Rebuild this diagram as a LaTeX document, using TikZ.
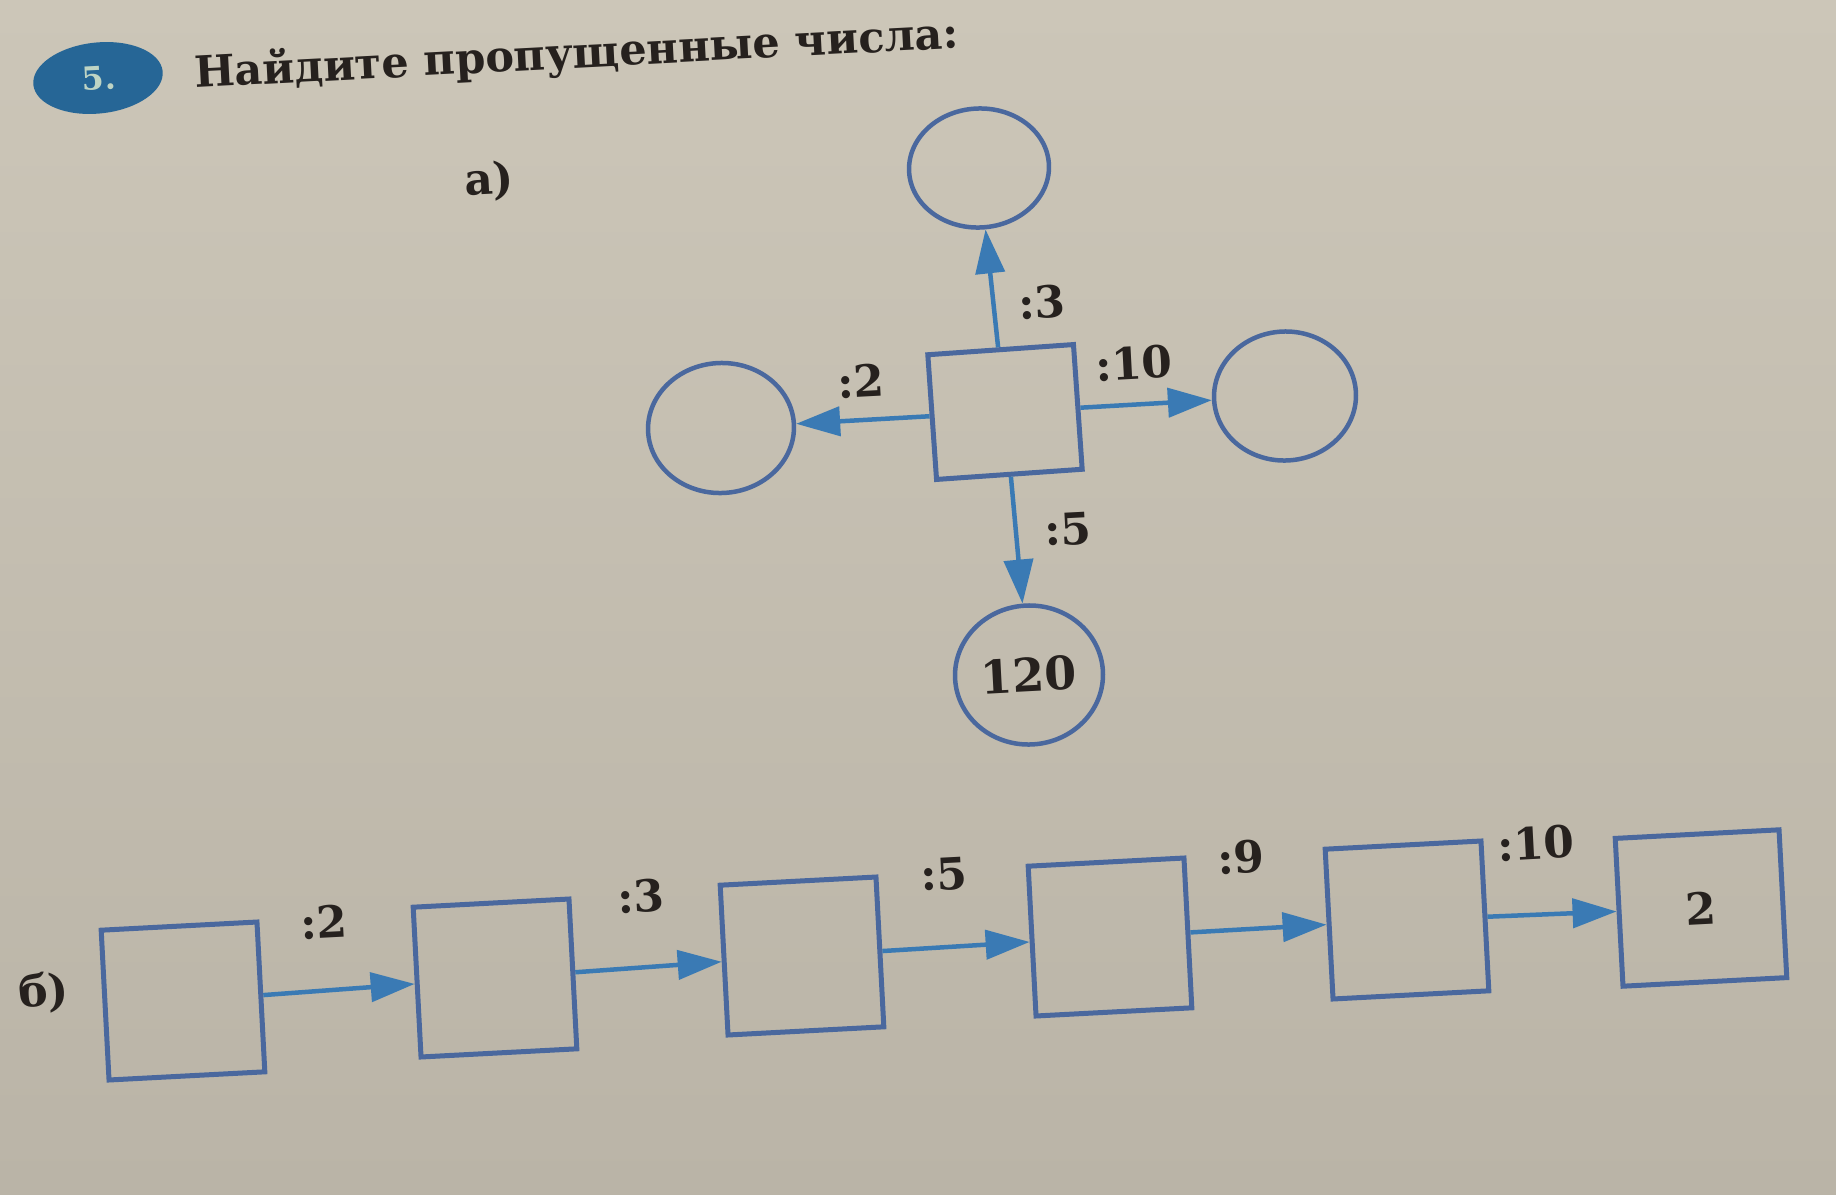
\documentclass[tikz,border=0pt]{standalone}
\usepackage{fontspec}
\setmainfont{DejaVu Serif}
\usetikzlibrary{arrows.meta,shapes.geometric}
\definecolor{papertop}{RGB}{204,198,184}
\definecolor{paperbot}{RGB}{186,180,167}
\definecolor{lineblue}{RGB}{74,104,158}
\definecolor{arrowblue}{RGB}{58,122,180}
\definecolor{ink}{RGB}{38,33,30}
\definecolor{badgeblue}{RGB}{38,102,150}
\definecolor{badgetext}{RGB}{190,212,196}
\begin{document}
\begin{tikzpicture}[x=1pt,y=-1pt,
  boxnode/.style={draw=lineblue,line width=5pt,minimum width=156pt,minimum height=150pt,inner sep=0pt,rotate=3,text=ink,font=\bfseries\fontsize{44}{50}\selectfont},
  ringnode/.style={ellipse,draw=lineblue,line width=4.5pt,minimum width=142pt,minimum height=127pt,inner sep=0pt,rotate=3,text=ink,font=\bfseries\fontsize{46}{52}\selectfont},
  lbl/.style={text=ink,inner sep=0pt,rotate=3,font=\bfseries\fontsize{44}{48}\selectfont},
  arr/.style={draw=arrowblue,line width=4.5pt,-{Triangle[length=44pt,width=29pt]}}
]
\shade[top color=papertop,bottom color=paperbot] (0,0) rectangle (1836,1194);
\useasboundingbox (0,0) rectangle (1836,1194);

% header
\node[ellipse,fill=badgeblue,minimum width=130pt,minimum height=71pt,inner sep=0pt,rotate=6] (badge) at (98,78) {};
\node[text=badgetext,font=\bfseries\fontsize{32}{36}\selectfont,inner sep=0pt,rotate=3] (badgenum) at (99,78) {5.};
\node[lbl,anchor=base west,font=\bfseries\fontsize{43}{48}\selectfont] (title) at (195,88) {Найдите пропущенные числа:};
\node[lbl] (parta) at (489,181) {а)};

% part a
\node[boxnode,minimum width=146pt,minimum height=125pt,rotate=1] (sq) at (1005,412) {};
\node[ringnode,minimum width=140pt,minimum height=119pt] (ctop) at (979,168) {};
\node[ringnode,minimum width=146pt,minimum height=130pt] (cleft) at (721,428) {};
\node[ringnode,minimum width=142pt,minimum height=129pt] (cright) at (1285,396) {};
\node[ringnode,minimum width=148pt,minimum height=139pt] (cbot) at (1029,675) {120};

\draw[arr] (sq) -- (ctop);
\draw[arr] (sq) -- (cleft);
\draw[arr] (sq) -- (cright);
\draw[arr] (sq) -- (cbot);

\node[lbl] (la3) at (1042,302) {:3};
\node[lbl] (la2) at (861,381) {:2};
\node[lbl] (la10) at (1134,363) {:10};
\node[lbl] (la5) at (1068,529) {:5};

% part b
\node[lbl] (partb) at (44,993) {б)};
\node[boxnode] (b1) at (183,1001) {};
\node[boxnode] (b2) at (495,978) {};
\node[boxnode] (b3) at (802,956) {};
\node[boxnode] (b4) at (1110,937) {};
\node[boxnode] (b5) at (1407,920) {};
\node[boxnode,minimum width=164pt,minimum height=148pt] (b6) at (1701,908) {2};

\draw[arr] (b1) -- (b2);
\draw[arr] (b2) -- (b3);
\draw[arr] (b3) -- (b4);
\draw[arr] (b4) -- (b5);
\draw[arr] (b5) -- (b6);

\node[lbl] (lb2) at (324,922) {:2};
\node[lbl] (lb3) at (641,896) {:3};
\node[lbl] (lb5) at (944,874) {:5};
\node[lbl] (lb9) at (1241,857) {:9};
\node[lbl] (lb10) at (1536,843) {:10};
\end{tikzpicture}
\end{document}
